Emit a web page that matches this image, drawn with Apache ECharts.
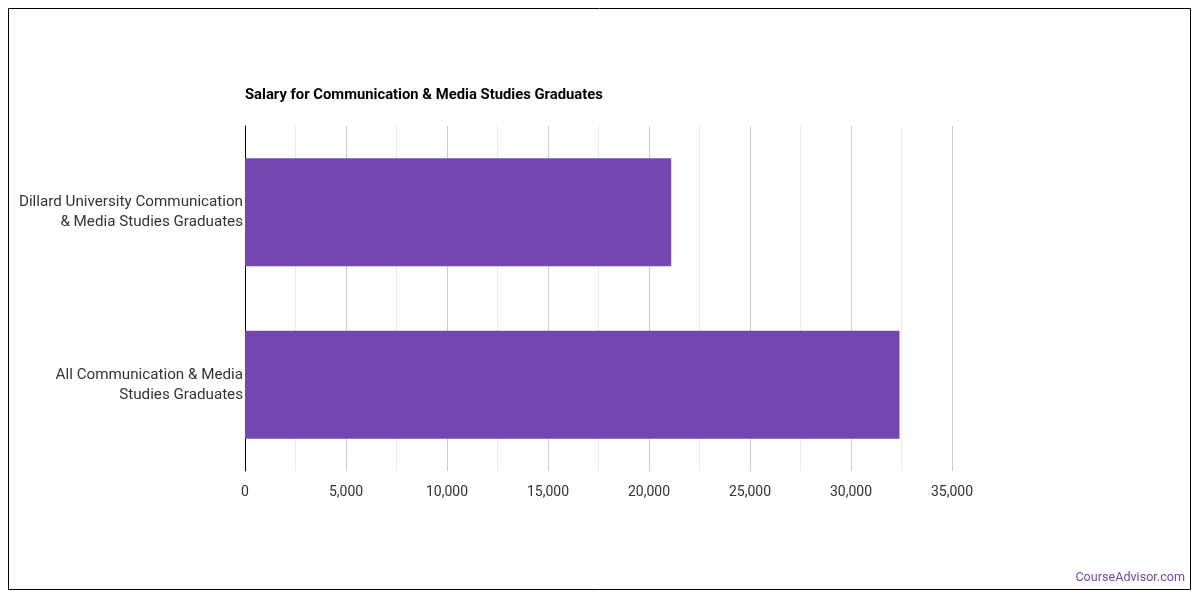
<!DOCTYPE html>
<html>
<head>
<meta charset="utf-8">
<script src="https://cdn.jsdelivr.net/npm/echarts@6/dist/echarts.min.js"></script>
<style>
  html, body { margin: 0; padding: 0; background: #fff; }
  #main { width: 1200px; height: 600px; }
</style>
</head>
<body>
<div id="main"></div>
<script>
// chart data
var categories = [
  "Dillard University Communication\n& Media Studies Graduates",
  "All Communication & Media\nStudies Graduates"
];
var salaries = [21100, 32400];
var tickMax = 35000;

var chartDom = document.getElementById("main");
var myChart = echarts.init(chartDom);

var option = {
  animation: false,
  textStyle: { fontFamily: "Roboto" },
  title: {
    text: "Salary for Communication & Media Studies Graduates",
    left: 245,
    top: 88,
    padding: 0,
    textStyle: { fontSize: 14.8, fontWeight: "bold", color: "#000", fontFamily: "Roboto" }
  },
  graphic: [
    {
      type: "rect",
      shape: { x: 8.5, y: 8.5, width: 1182, height: 581 },
      style: { fill: "none", stroke: "#000", lineWidth: 1 }
    },
    {
      type: "text",
      right: 15,
      top: 571,
      style: { text: "CourseAdvisor.com", fill: "#7048a8", font: "12.6px Roboto" }
    }
  ],
  grid: { left: 245, right: 248, top: 126, bottom: 129, containLabel: false },
  xAxis: {
    type: "value",
    min: 0,
    max: tickMax,
    interval: 5000,
    axisLine: { show: false },
    axisTick: { show: false },
    axisLabel: {
      color: "#333",
      fontSize: 14,
      margin: 14,
      formatter: function (v) { return v.toLocaleString("en-US"); }
    },
    splitLine: { show: true, lineStyle: { color: "#cccccc" } },
    minorTick: { show: false, splitNumber: 2 },
    minorSplitLine: { show: true, lineStyle: { color: "#ebebeb" } }
  },
  yAxis: {
    type: "category",
    inverse: true,
    data: categories,
    axisLine: { show: true, lineStyle: { color: "#000" } },
    axisTick: { show: false },
    axisLabel: { color: "#333", fontSize: 15.2, lineHeight: 20, margin: 2, padding: [11, 0, 0, 0] }
  },
  series: [
    {
      type: "bar",
      data: salaries,
      barWidth: 108,
      itemStyle: { color: "#7447ae" }
    }
  ]
};

option && myChart.setOption(option);
</script>
</body>
</html>
